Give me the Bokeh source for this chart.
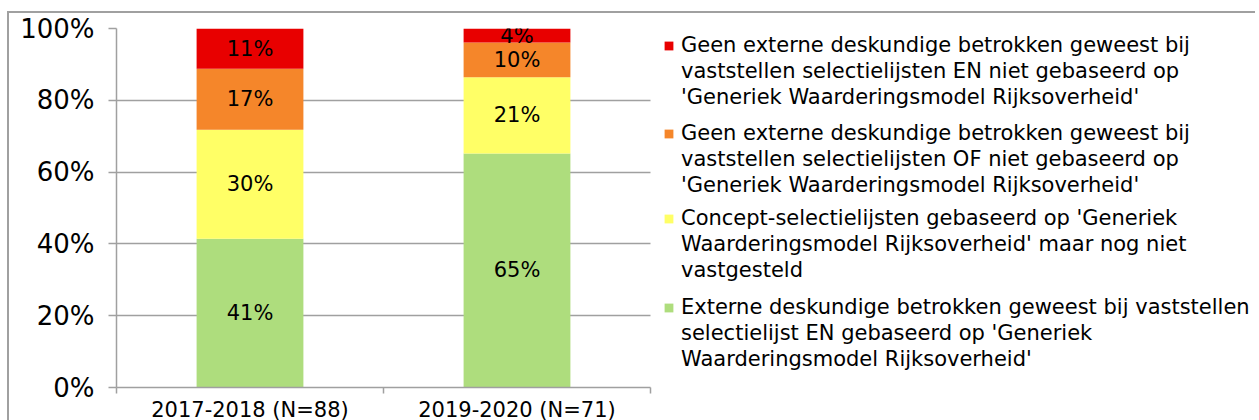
from bokeh.plotting import figure
from bokeh.models import (FixedTicker, NumeralTickFormatter, Legend, LegendItem,
                          ColumnDataSource, Range1d, Grid)
from bokeh.core.properties import value
from bokeh.embed import file_html
from bokeh.resources import INLINE

categories = ["2017-2018 (N=88)", "2019-2020 (N=71)"]
series_lines = [
    ["Externe deskundige betrokken geweest bij vaststellen",
     "selectielijst EN gebaseerd op 'Generiek",
     "Waarderingsmodel Rijksoverheid'"],
    ["Concept-selectielijsten gebaseerd op 'Generiek",
     "Waarderingsmodel Rijksoverheid' maar nog niet",
     "vastgesteld"],
    ["Geen externe deskundige betrokken geweest bij",
     "vaststellen selectielijsten OF niet gebaseerd op",
     "'Generiek Waarderingsmodel Rijksoverheid'"],
    ["Geen externe deskundige betrokken geweest bij",
     "vaststellen selectielijsten EN niet gebaseerd op",
     "'Generiek Waarderingsmodel Rijksoverheid'"],
]
green = [41.4, 65.2]
yellow = [30.4, 21.2]
orange = [17.0, 9.7]
red = [11.2, 3.9]
colors = ["#AEDD7D", "#FFFF66", "#F5862A", "#E80000"]
y_ticks = [0, 0.2, 0.4, 0.6, 0.8, 1.0]

FONT = "DejaVu Sans"
GRAY = "#a0a0a0"

series = [green, yellow, orange, red]
keys = ["s0", "s1", "s2", "s3"]
xs = [i + 0.5 for i in range(len(categories))]
data = {"x": xs}
for k, s in zip(keys, series):
    data[k] = [v / 100 for v in s]
src = ColumnDataSource(data)

# The chart area spans 534 px for the categories; the frame continues to the
# right to host the legend (grid and axis are bounded to the categories).
CAT_PX = 534
FRAME_W = 1139
n = len(categories)
x_end = n * FRAME_W / CAT_PX

p = figure(output_backend="svg", toolbar_location=None,
           frame_width=FRAME_W, frame_height=359,
           min_border_left=107, min_border_top=15, min_border_bottom=31,
           min_border_right=0,
           x_range=Range1d(0, x_end), y_range=Range1d(0, 1))
p.styles = {"border-top": f"2px solid {GRAY}", "border-left": f"2px solid {GRAY}",
            "margin-left": "7px", "margin-top": "11px"}
p.outline_line_color = None

# horizontal grid lines, limited to the category area
p.xgrid.grid_line_color = None
if "cross_bounds" in Grid.properties():
    p.ygrid.ticker = FixedTicker(ticks=y_ticks)
    p.ygrid.cross_bounds = (0, n)
    p.ygrid.grid_line_color = GRAY
    p.ygrid.grid_line_width = 1.5
else:
    p.ygrid.grid_line_color = None
    p.segment(x0=[0] * len(y_ticks), x1=[n] * len(y_ticks), y0=y_ticks, y1=y_ticks,
              line_color=GRAY, line_width=1.5, level="underlay")

renderers = p.vbar_stack(keys, x="x", width=0.4, color=colors, line_color=None, source=src)
dummy = p.scatter(x=[], y=[], size=0, fill_alpha=0, line_alpha=0)

# labels in segment centres
lx, ly, lt = [], [], []
for i, x in enumerate(xs):
    base = 0.0
    for s in series:
        v = s[i] / 100
        lx.append(x)
        ly.append(base + v / 2)
        lt.append(f"{round(s[i])}%")
        base += v
p.text(x=lx, y=ly, text=lt, text_align="center", text_baseline="middle",
       text_font=value(FONT), text_font_size="21px", text_color="black")

# axes
p.yaxis.ticker = FixedTicker(ticks=y_ticks)
p.yaxis.formatter = NumeralTickFormatter(format="0%")
p.yaxis.major_label_text_font = FONT
p.yaxis.major_label_text_font_size = "26px"
p.yaxis.major_label_text_color = "black"
p.yaxis.axis_line_color = GRAY
p.yaxis.axis_line_width = 1.5
p.yaxis.major_tick_line_color = GRAY
p.yaxis.major_tick_line_width = 1.5
p.yaxis.major_tick_out = 8
p.yaxis.major_tick_in = 0
p.yaxis.minor_tick_line_color = None
p.yaxis.major_label_standoff = 14

p.xaxis.ticker = FixedTicker(ticks=xs, minor_ticks=list(range(n + 1)))
p.xaxis.bounds = (0, n)
p.xaxis.major_label_overrides = {x: c for x, c in zip(xs, categories)}
p.xaxis.major_label_text_font = FONT
p.xaxis.major_label_text_font_size = "21px"
p.xaxis.major_label_text_color = "black"
p.xaxis.axis_line_color = GRAY
p.xaxis.axis_line_width = 1.5
p.xaxis.major_tick_line_color = None
p.xaxis.major_tick_out = 5
p.xaxis.minor_tick_line_color = GRAY
p.xaxis.minor_tick_line_width = 1.5
p.xaxis.minor_tick_out = 6
p.xaxis.minor_tick_in = 0
p.xaxis.major_label_standoff = 4

# legend: one block per series, red on top
offsets = [15, 104, 189, 277]  # px of each block's bottom above the frame bottom
for lines, r, off in zip(series_lines, renderers, offsets):
    items = [LegendItem(label=lines[0], renderers=[r])]
    items += [LegendItem(label=t, renderers=[dummy]) for t in lines[1:]]
    lg = Legend(items=items, location=(CAT_PX + 13, off))
    lg.label_text_font = FONT
    lg.label_text_font_size = "21px"
    lg.label_text_color = "black"
    lg.label_text_line_height = 1.0
    lg.label_height = 26
    lg.glyph_width = 11
    lg.glyph_height = 11
    lg.label_standoff = 7
    lg.spacing = 0
    lg.padding = 0
    lg.margin = 0
    lg.border_line_color = None
    lg.background_fill_alpha = 0
    p.add_layout(lg)

open("out.html", "w").write(file_html(p, INLINE))
